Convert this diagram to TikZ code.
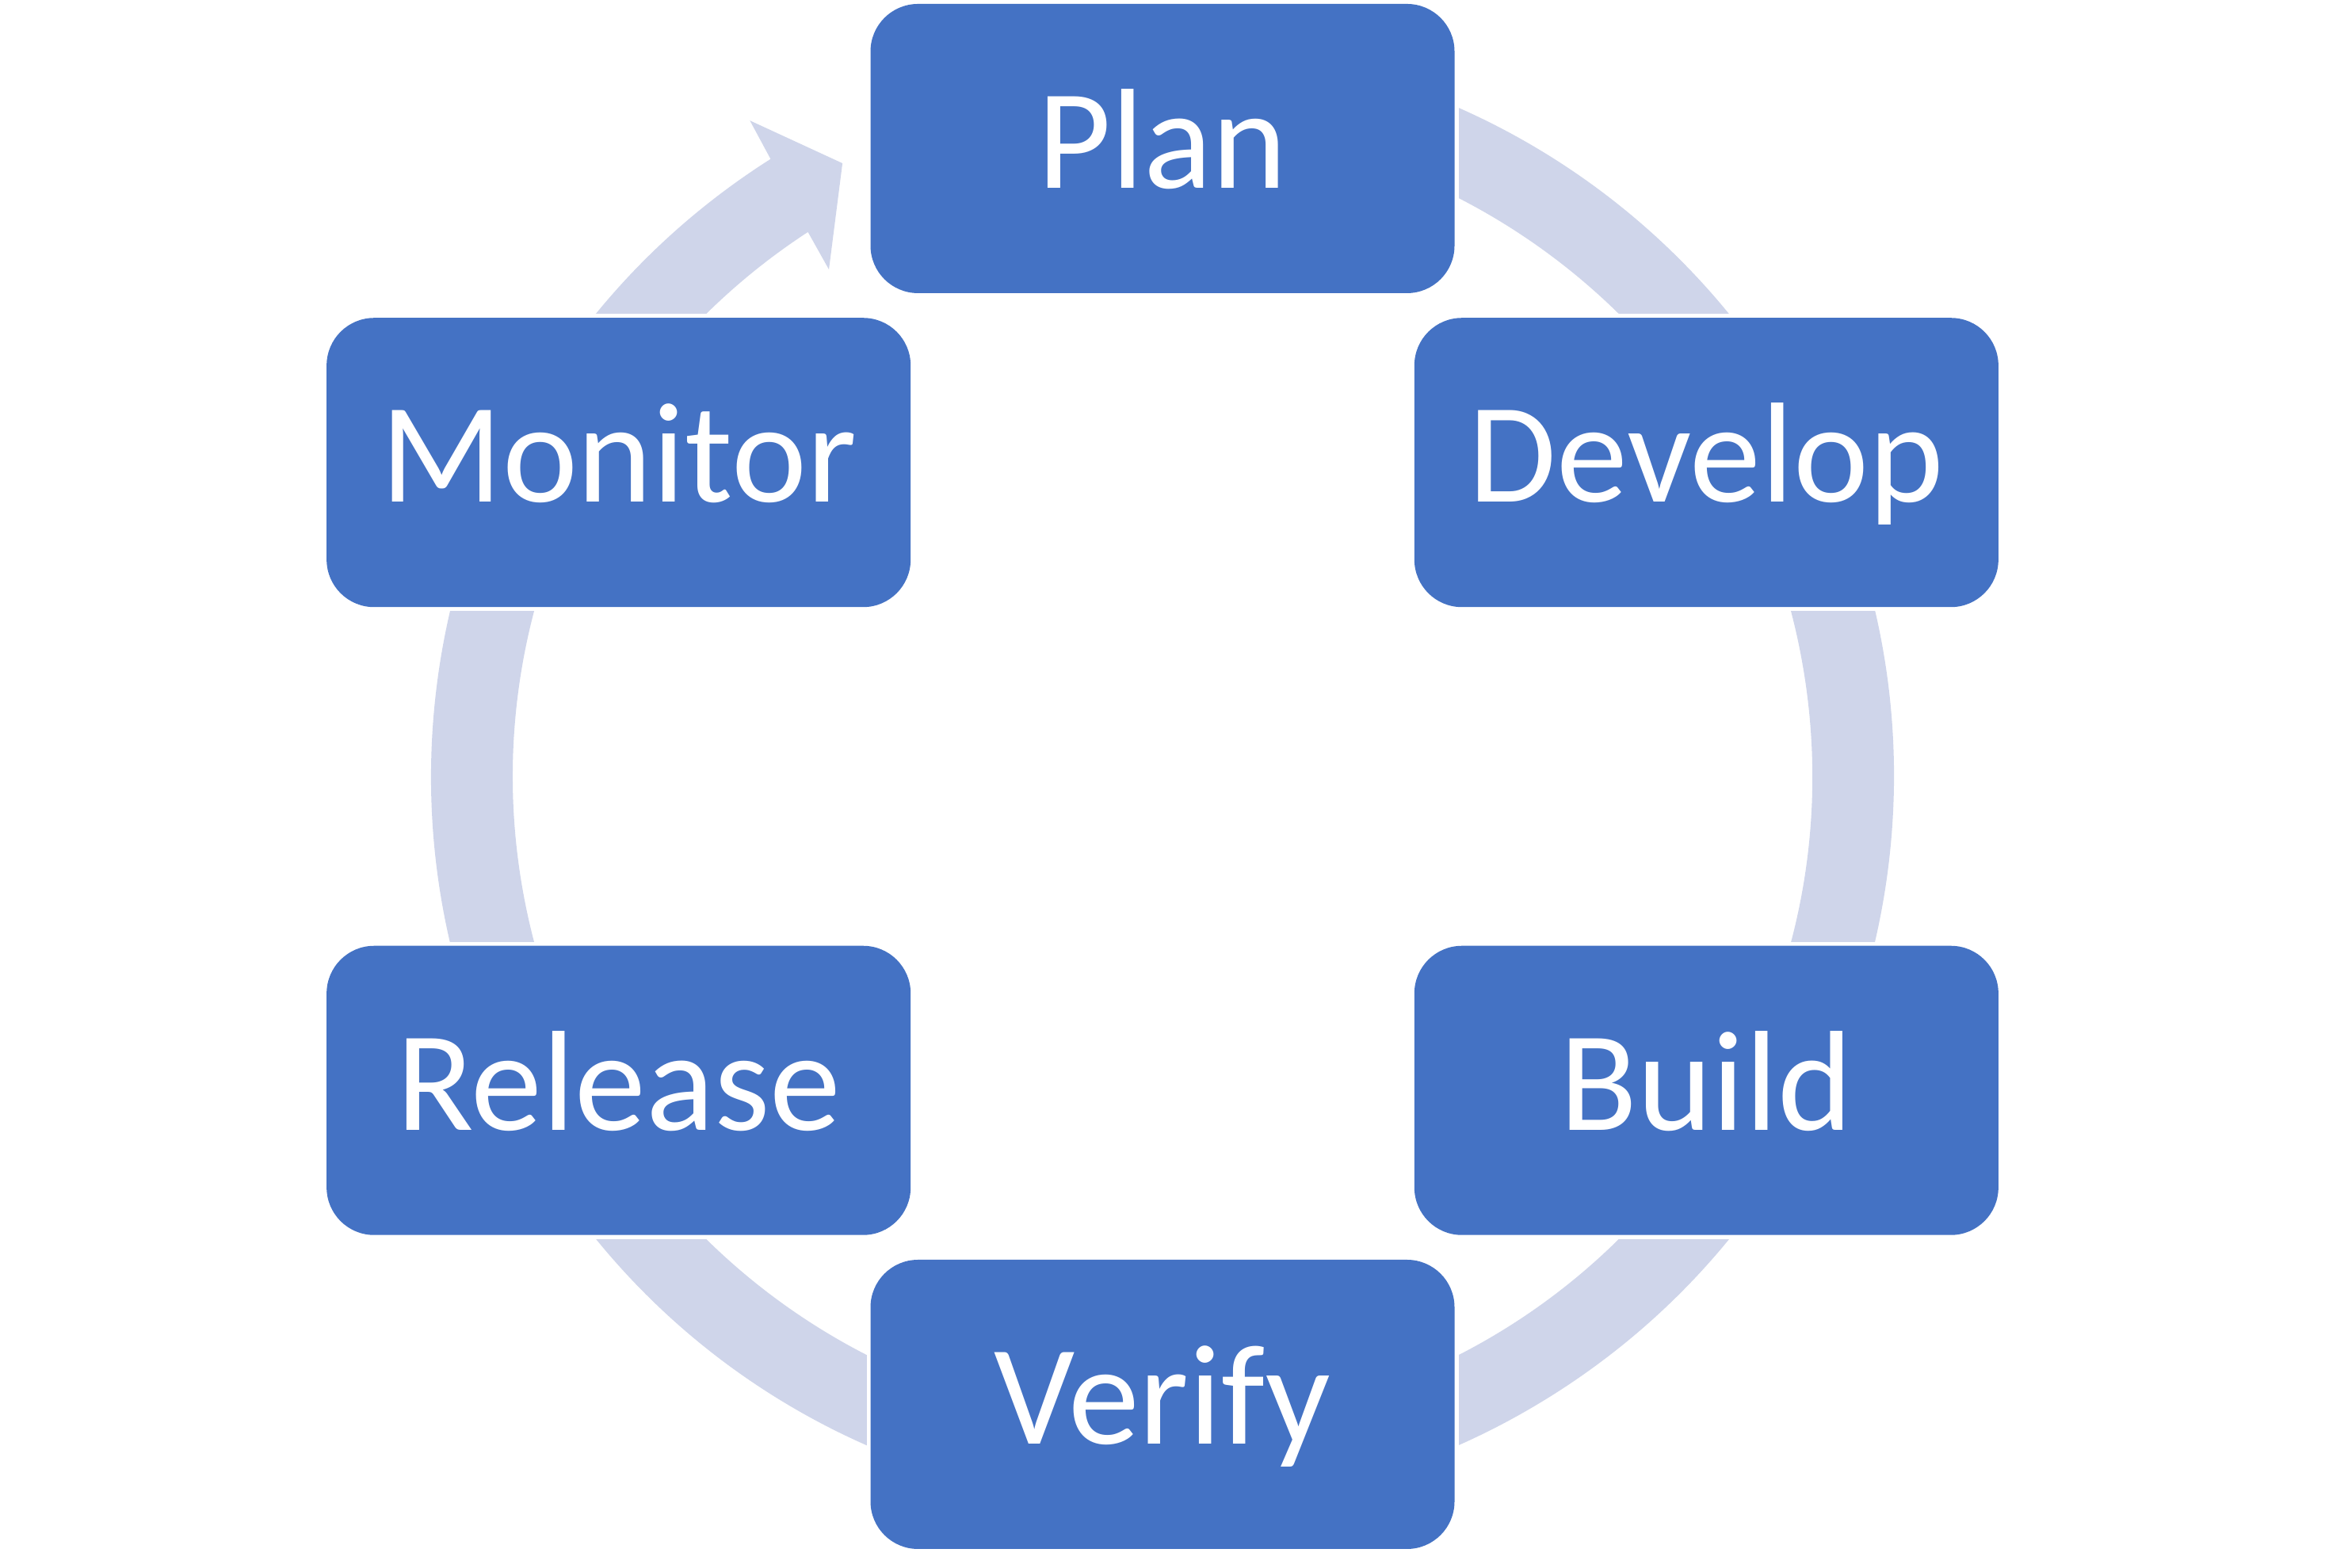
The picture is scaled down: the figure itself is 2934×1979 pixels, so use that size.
\documentclass[tikz,border=0pt]{standalone}
\usepackage{fontspec}
\setmainfont{Carlito}
\definecolor{boxblue}{HTML}{4472C4}
\definecolor{ringblue}{HTML}{CFD5EA}
\begin{document}
\begin{tikzpicture}[x=0.25pt,y=0.25pt,
  stepbox/.style={fill=boxblue, draw=none, rounded corners=15pt, minimum width=184.25pt, minimum height=91.25pt, inner sep=0pt, outer sep=0pt},
  gapbox/.style={fill=white, draw=none, minimum width=186.75pt, minimum height=93.75pt, inner sep=0pt, outer sep=0pt},
  lbl/.style={text=white, font=\fontsize{45}{54}\selectfont, text height=28.5pt, text depth=0pt, inner sep=0pt}]
\useasboundingbox[fill=white] (0,0) rectangle (2934,1979);
\begin{scope}[shift={(1467,999)}]
  % ring with arrowhead
  \fill[ringblue] (122.4:923) arc[start angle=122.4, end angle=460, radius=923]
    -- (460:820) arc[start angle=460, end angle=123.07, radius=820]
    -- (123.34:766) -- (117.56:873) -- (122.17:978) -- cycle;
  % white gaps
  \foreach \a in {90,30,-30,-90,-150,150} \node[gapbox] at (\a:792.5) {};
  % boxes
  \node[stepbox] (plan) at (90:792.5) {};
  \node[stepbox] (develop) at (30:792.5) {};
  \node[stepbox] (build) at (-30:792.5) {};
  \node[stepbox] (verify) at (-90:792.5) {};
  \node[stepbox] (release) at (-150:792.5) {};
  \node[stepbox] (monitor) at (150:792.5) {};
  \node[lbl] (tplan) at ([yshift=1.75pt]plan.center) {Plan};
  \node[lbl] (tdevelop) at ([yshift=1.75pt]develop.center) {Develop};
  \node[lbl] (tbuild) at ([yshift=1.75pt]build.center) {Build};
  \node[lbl] (tverify) at ([yshift=1.75pt]verify.center) {Verify};
  \node[lbl] (trelease) at ([yshift=1.75pt]release.center) {Release};
  \node[lbl] (tmonitor) at ([yshift=1.75pt]monitor.center) {Monitor};
\end{scope}
\end{tikzpicture}
\end{document}
